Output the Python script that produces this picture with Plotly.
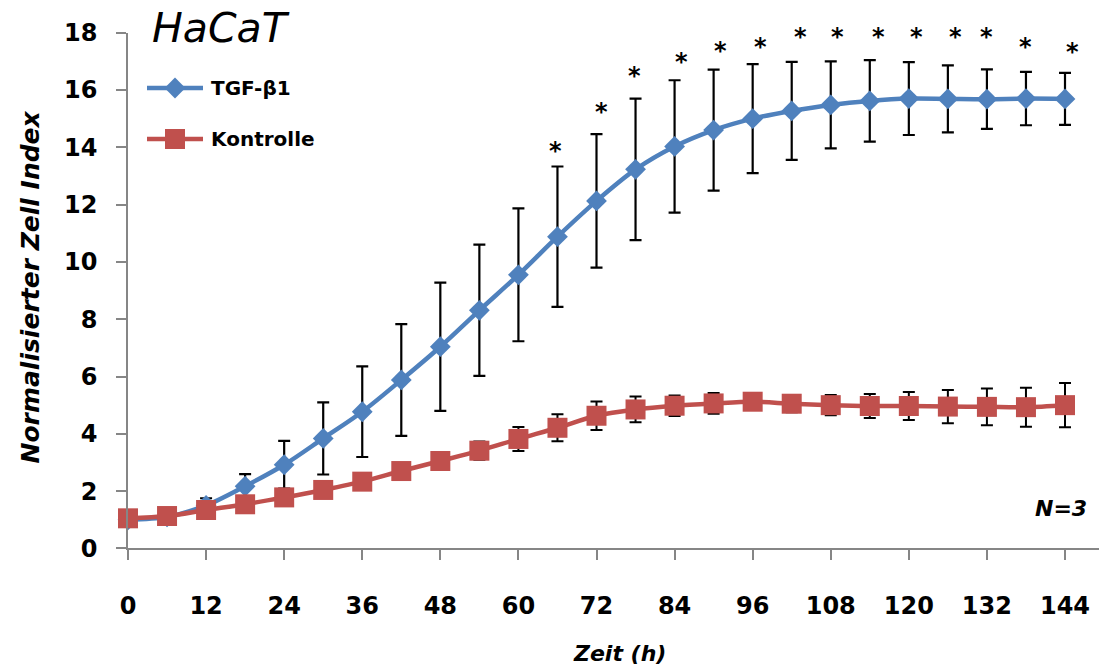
import plotly.graph_objects as go

# ---------------- data ----------------
hours = list(range(0, 145, 6))
tgf = [1.0, 1.1, 1.5, 2.17, 2.92, 3.84, 4.77, 5.88, 7.04, 8.31, 9.55, 10.88, 12.13,
       13.23, 14.03, 14.6, 15.0, 15.27, 15.48, 15.62, 15.7, 15.69, 15.68, 15.7, 15.69]
tgf_sd = [0.0, 0.05, 0.25, 0.42, 0.83, 1.26, 1.58, 1.95, 2.24, 2.29, 2.32, 2.45, 2.33,
          2.47, 2.31, 2.11, 1.9, 1.71, 1.52, 1.42, 1.27, 1.17, 1.04, 0.93, 0.91]
ctrl = [1.05, 1.13, 1.34, 1.54, 1.78, 2.04, 2.33, 2.7, 3.05, 3.41, 3.82, 4.21, 4.63,
        4.85, 4.98, 5.06, 5.12, 5.05, 5.0, 4.97, 4.97, 4.95, 4.94, 4.93, 5.0]
ctrl_sd = [0.0, 0.03, 0.05, 0.08, 0.1, 0.12, 0.15, 0.18, 0.22, 0.32, 0.42, 0.47, 0.5,
           0.45, 0.36, 0.36, 0.22, 0.3, 0.35, 0.42, 0.49, 0.58, 0.64, 0.68, 0.77]
x_ticks = list(range(0, 145, 12))
y_ticks = list(range(0, 19, 2))
star_x = [65.7, 72.8, 77.8, 85.0, 91.1, 97.2, 103.4, 109.0, 115.3, 121.2, 127.2, 132.0, 138.0, 145.2]
star_y = [14.06, 15.42, 16.67, 17.16, 17.54, 17.69, 18.03, 18.03, 18.03, 18.03, 18.03, 18.03, 17.69, 17.51]
series_names = ["TGF-\u03b21", "Kontrolle"]

# ---------------- layout constants ----------------
W, H = 1099, 668
BLUE = "#4F81BD"
RED = "#C0504D"
AXIS = "#868686"
FONT = "DejaVu Sans"
X0_PX, X144_PX = 128, 1065
Y0_PX, Y18_PX = 548.4, 32.7
x_max = 144 * (W - X0_PX) / (X144_PX - X0_PX)
Y_MAX = 18

fig = go.Figure()

fig.add_trace(go.Scatter(
    x=hours, y=tgf, mode="lines+markers", name=series_names[0],
    line=dict(color=BLUE, width=4.5, shape="spline", smoothing=0.9),
    marker=dict(symbol="diamond", size=16, color=BLUE),
    error_y=dict(type="data", array=tgf_sd, color="black", thickness=2.2, width=6),
    cliponaxis=False, showlegend=False))

fig.add_trace(go.Scatter(
    x=hours, y=ctrl, mode="lines+markers", name=series_names[1],
    line=dict(color=RED, width=4.5, shape="spline", smoothing=0.9),
    marker=dict(symbol="square", size=20, color=RED),
    error_y=dict(type="data", array=ctrl_sd, color="black", thickness=2.0, width=6),
    cliponaxis=False, showlegend=False))

# custom legend drawn on an invisible pixel-space overlay
leg_y = [88, 139]
leg_sym = ["diamond", "square"]
leg_size = [16, 20]
leg_col = [BLUE, RED]
for i in range(2):
    fig.add_trace(go.Scatter(
        x=[147, 175, 203], y=[leg_y[i]] * 3, mode="lines",
        line=dict(color=leg_col[i], width=4.5),
        xaxis="x2", yaxis="y2", showlegend=False, hoverinfo="skip"))
    fig.add_trace(go.Scatter(
        x=[175], y=[leg_y[i]], mode="markers",
        marker=dict(symbol=leg_sym[i], size=leg_size[i], color=leg_col[i]),
        xaxis="x2", yaxis="y2", showlegend=False, hoverinfo="skip"))

annotations = []
for i in range(2):
    annotations.append(dict(
        x=209 / W, y=1 - leg_y[i] / H, xref="paper", yref="paper",
        xanchor="left", yanchor="middle", showarrow=False, text=series_names[i],
        font=dict(family=FONT, size=20, weight="bold", color="black")))

for sx, sy in zip(star_x, star_y):
    annotations.append(dict(
        x=sx, y=sy / Y_MAX, xref="x", yref="y domain", showarrow=False, text="*",
        yshift=11, font=dict(family=FONT, size=24, weight="bold", color="black")))

annotations += [
    dict(x=150 / W, y=1 - 28 / H, xref="paper", yref="paper", xanchor="left", yanchor="middle",
         showarrow=False, text="HaCaT",
         font=dict(family=FONT, size=41, style="italic", color="black")),
    dict(x=30 / W, y=1 - 287.5 / H, xref="paper", yref="paper", xanchor="center", yanchor="middle",
         showarrow=False, text="Normalisierter Zell Index", textangle=-90,
         font=dict(family=FONT, size=25, weight="bold", style="italic", color="black")),
    dict(x=619 / W, y=1 - 653 / H, xref="paper", yref="paper", xanchor="center", yanchor="middle",
         showarrow=False, text="Zeit (h)",
         font=dict(family=FONT, size=22, weight="bold", style="italic", color="black")),
    dict(x=1089 / W, y=1 - 508 / H, xref="paper", yref="paper", xanchor="right", yanchor="middle",
         showarrow=False, text="N=3",
         font=dict(family=FONT, size=22, weight="bold", style="italic", color="black")),
]

fig.update_layout(
    template="none",
    width=W, height=H, autosize=False,
    margin=dict(l=0, r=0, t=0, b=0, pad=0, autoexpand=False),
    paper_bgcolor="white", plot_bgcolor="rgba(0,0,0,0)",
    showlegend=False,
    annotations=annotations,
    xaxis=dict(domain=[X0_PX / W, 1.0], range=[0, x_max], automargin=False,
               tickmode="array", tickvals=x_ticks, ticktext=[str(v) for v in x_ticks],
               showgrid=False, zeroline=False, showline=True, linecolor=AXIS, linewidth=1.5,
               ticks="outside", ticklen=10, tickcolor=AXIS, tickwidth=1.5,
               ticklabelstandoff=25,
               tickfont=dict(family=FONT, size=24, weight="bold", color="black")),
    yaxis=dict(domain=[1 - Y0_PX / H, 1 - Y18_PX / H], range=[0, Y_MAX], automargin=False,
               tickmode="array", tickvals=y_ticks, ticktext=[str(v) for v in y_ticks],
               showgrid=False, zeroline=False, showline=True, linecolor=AXIS, linewidth=1.5,
               ticks="outside", ticklen=10, tickcolor=AXIS, tickwidth=1.5,
               ticklabelstandoff=14,
               tickfont=dict(family=FONT, size=24, weight="bold", color="black")),
    xaxis2=dict(domain=[0, 1], range=[0, W], anchor="y2", visible=False, fixedrange=True,
                automargin=False),
    yaxis2=dict(domain=[0, 1], range=[H, 0], anchor="x2", visible=False, fixedrange=True,
                automargin=False),
)

fig.write_html("out.html")
